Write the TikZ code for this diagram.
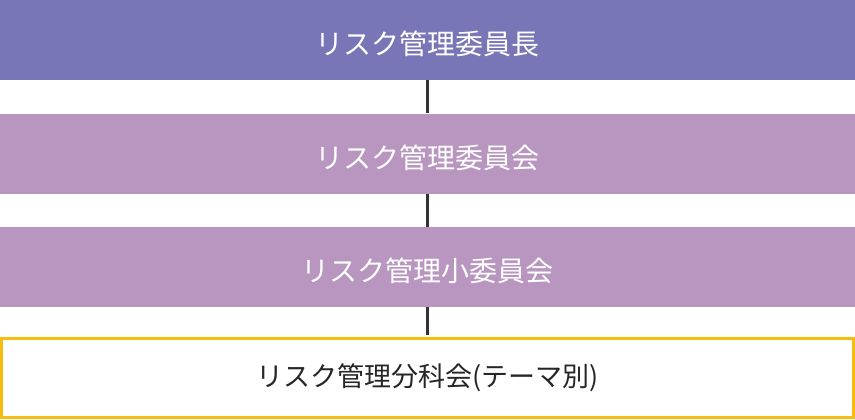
\documentclass[tikz,border=0pt]{standalone}
\usepackage{fontspec}
\newfontfamily\jpfont{Noto Sans CJK JP}
\usetikzlibrary{positioning}
\definecolor{chaircol}{HTML}{7876B6}
\definecolor{boardcol}{HTML}{B896C0}
\definecolor{framecol}{HTML}{F5BE0F}
\definecolor{linkcol}{HTML}{333333}
\begin{document}
\begin{tikzpicture}[x=1pt,y=1pt,upper/.style={text=white,text height=29pt,text depth=0pt,font=\jpfont\fontsize{28}{32}\selectfont}]
            \useasboundingbox (0,0) rectangle (855,-420);
            \begin{scope}[every node/.style={rectangle,minimum width=855pt,minimum height=80pt,inner sep=0pt}]
                \node[upper,fill=chaircol,anchor=north] (chair) at (427.5,0) {リスク管理委員長};
                \node[upper,fill=boardcol,below=33pt of chair] (board) {リスク管理委員会};
                \node[upper,fill=boardcol,below=33pt of board] (subboard) {リスク管理小委員会};
                \node[draw=framecol,line width=3pt,fill=white,text=black!85,font=\jpfont\fontsize{27}{32}\selectfont,minimum width=852pt,minimum height=79pt,anchor=south] (section) at (427.5,-418.5) {リスク管理分科会(テーマ別)};
            \end{scope}

            \begin{scope}[line width=3pt,linkcol]
                \draw (chair) -- (board);
                \draw (board) -- (subboard);
                \draw[shorten >=1.5pt] (subboard) -- (section);
            \end{scope}
            \end{tikzpicture}
\end{document}
